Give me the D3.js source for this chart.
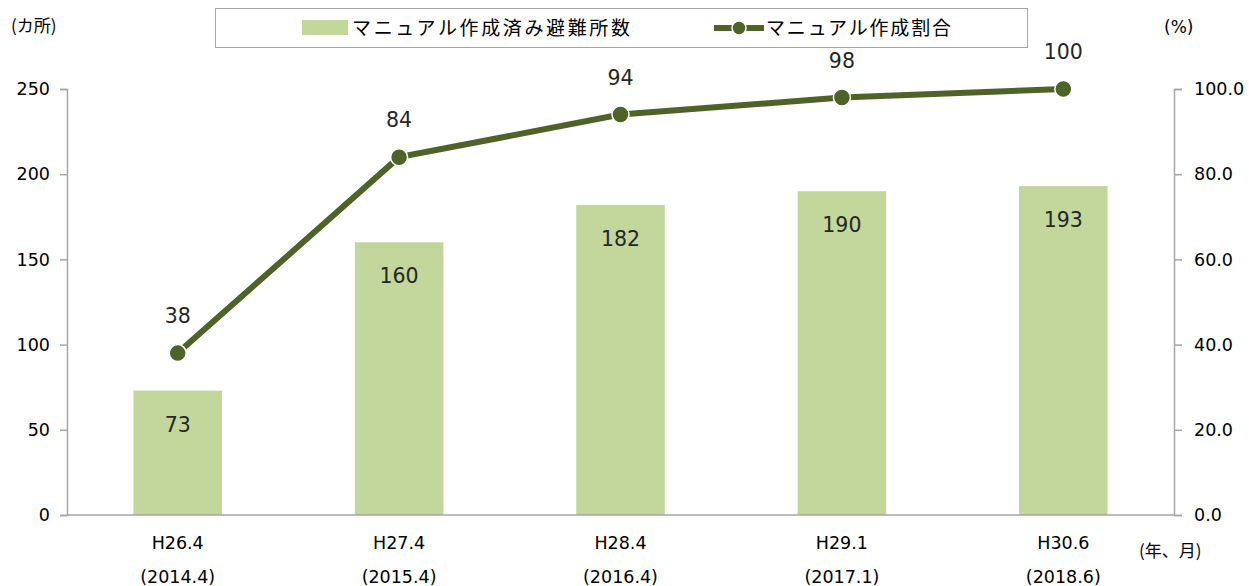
<!DOCTYPE html>
<html><head><meta charset="utf-8">
<script src="https://cdn.jsdelivr.net/npm/d3@7"></script>
<style>body{margin:0;background:#fff}svg{display:block}</style>
</head><body>
<svg id="c" width="1249" height="586"></svg>
<script>
const categories = ["H26.4","H27.4","H28.4","H29.1","H30.6"];
const subLabels = ["(2014.4)","(2015.4)","(2016.4)","(2017.1)","(2018.6)"];
const counts = [73,160,182,190,193];
const ratios = [38,84,94,98,100];
const leftTicks = [0,50,100,150,200,250];
const rightTicks = [0,20,40,60,80,100];

const svg = d3.select("#c");
const L = 67, R = 1174, T = 89, B = 515;
const numFont = "'DejaVu Sans', Verdana, sans-serif";
const jpFont = "'Noto Sans CJK JP', sans-serif";
const axisColor = "#a6a6a6";

const x = d3.scaleBand().domain(categories).range([L, R]).paddingInner(0.6).paddingOuter(0.3);
const yL = d3.scaleLinear().domain([0,250]).range([B, T]);
const yR = d3.scaleLinear().domain([0,100]).range([B, T]);

// bars
svg.selectAll("rect.bar").data(counts).join("rect")
  .attr("x",(d,i)=>x(categories[i])).attr("y",d=>yL(d))
  .attr("width",x.bandwidth()).attr("height",d=>B-yL(d))
  .attr("fill","#c3d69b");
svg.selectAll("text.bl").data(counts).join("text")
  .attr("x",(d,i)=>x(categories[i])+x.bandwidth()/2).attr("y",d=>yL(d)+41)
  .attr("text-anchor","middle").attr("font-family",numFont).attr("font-size",20.5)
  .attr("fill","#262626").text(d=>d);

// axes
const gl = svg.append("g").attr("transform",`translate(${L},0)`)
  .call(d3.axisLeft(yL).tickValues(leftTicks).tickSize(7).tickPadding(10));
const gr = svg.append("g").attr("transform",`translate(${R},0)`)
  .call(d3.axisRight(yR).tickValues(rightTicks).tickSize(8).tickPadding(12).tickFormat(d3.format(".1f")));
[gl,gr].forEach(g=>{
  g.select(".domain").attr("stroke",axisColor).attr("stroke-width",1.5);
  g.selectAll(".tick line").attr("stroke",axisColor).attr("stroke-width",1.5);
  g.selectAll(".tick text").attr("font-family",numFont).attr("font-size",17.5).attr("fill","#000");
});
svg.append("line").attr("x1",L).attr("x2",R).attr("y1",B).attr("y2",B)
  .attr("stroke",axisColor).attr("stroke-width",1.5);

// x labels
categories.forEach((c,i)=>{
  const cx = x(c)+x.bandwidth()/2;
  svg.append("text").attr("x",cx).attr("y",549).attr("text-anchor","middle")
    .attr("font-family",numFont).attr("font-size",17.5).text(c);
  svg.append("text").attr("x",cx).attr("y",583).attr("text-anchor","middle")
    .attr("font-family",numFont).attr("font-size",17.5).text(subLabels[i]);
});

// line
const line = d3.line().x((d,i)=>x(categories[i])+x.bandwidth()/2).y(d=>yR(d));
svg.append("path").datum(ratios).attr("d",line).attr("fill","none")
  .attr("stroke","#4f6228").attr("stroke-width",6);
svg.selectAll("circle.pt").data(ratios).join("circle")
  .attr("cx",(d,i)=>x(categories[i])+x.bandwidth()/2).attr("cy",d=>yR(d))
  .attr("r",8.5).attr("fill","#4f6228").attr("stroke","#fff").attr("stroke-width",1.5);
svg.selectAll("text.pl").data(ratios).join("text")
  .attr("x",(d,i)=>x(categories[i])+x.bandwidth()/2).attr("y",d=>yR(d)-30)
  .attr("text-anchor","middle").attr("font-family",numFont).attr("font-size",20.5)
  .attr("fill","#262626").text(d=>d);

// unit labels
svg.append("text").attr("x",11).attr("y",32).attr("font-family",jpFont).attr("font-size",17).text("(カ所)");
svg.append("text").attr("x",1164).attr("y",33).attr("font-family",numFont).attr("font-size",17).text("(%)");
svg.append("text").attr("x",1139).attr("y",557).attr("font-family",jpFont).attr("font-size",17).text("(年、月)");

// legend
svg.append("rect").attr("x",215.5).attr("y",8.5).attr("width",812).attr("height",39)
  .attr("fill","#fff").attr("stroke","#a6a6a6").attr("stroke-width",1);
svg.append("rect").attr("x",302).attr("y",20).attr("width",46).attr("height",15).attr("fill","#c3d69b");
svg.append("text").attr("x",352).attr("y",35).attr("font-family",jpFont).attr("font-size",19).attr("textLength",278).text("マニュアル作成済み避難所数");
svg.append("line").attr("x1",714).attr("x2",764).attr("y1",28).attr("y2",28).attr("stroke","#4f6228").attr("stroke-width",6);
svg.append("circle").attr("cx",739).attr("cy",28).attr("r",7).attr("fill","#4f6228").attr("stroke","#fff").attr("stroke-width",1.5);
svg.append("text").attr("x",766).attr("y",35).attr("font-family",jpFont).attr("font-size",19).attr("textLength",185).text("マニュアル作成割合");
</script>
</body></html>
